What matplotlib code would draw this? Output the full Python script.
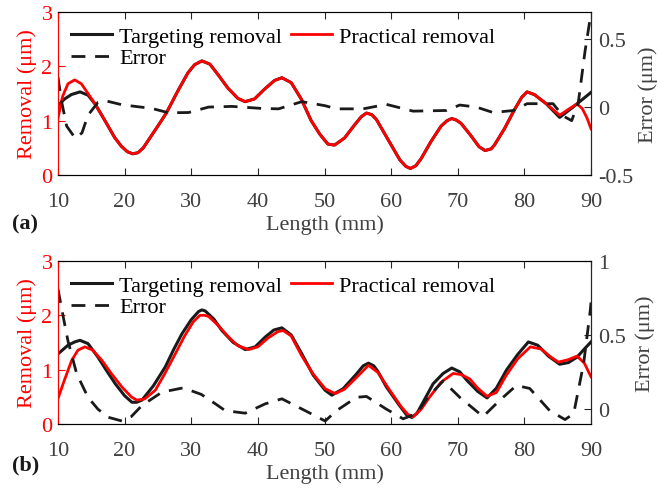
import matplotlib
matplotlib.use('Agg')
import matplotlib.pyplot as plt

plt.rcParams['font.family'] = ['Liberation Serif', 'DejaVu Serif']
plt.rcParams['font.size'] = 16
plt.rcParams['lines.solid_joinstyle'] = 'round'
plt.rcParams['lines.dash_joinstyle'] = 'round'

RED = '#ff0000'
GRAY = '#404040'
DARK = '#1a1a1a'
DASH = (0, (5, 3.5))

# ---- panel (a) data ----
a_target_x = [10, 11, 12, 13.3, 14.5, 15.6, 17, 18.5, 19.5, 20.4, 21.2, 22, 22.8, 24, 25.2, 26.3,
              28, 29.5, 30.5, 31.6, 32.8, 34, 35.5, 37, 38.1, 39.5, 41, 42.5, 43.6, 45, 46.5,
              48, 49.3, 50.5, 51.5, 53, 54.5, 55.5, 56.3, 57.1, 57.8, 59.5, 61.3, 62.2, 62.9,
              63.7, 64.5, 66, 67.5, 68.4, 69.1, 69.8, 70.5, 72, 73.2, 74.1, 75, 75.5, 77, 78.5,
              79.6, 80.4, 81.5, 83.3, 85.3, 87.3, 88.5, 90]
a_target_y = [1.28, 1.40, 1.48, 1.53, 1.47, 1.30, 1.01, 0.69, 0.53, 0.43, 0.39, 0.41, 0.50, 0.72,
              0.94, 1.15, 1.55, 1.88, 2.03, 2.10, 2.04, 1.85, 1.60, 1.41, 1.35, 1.40, 1.58, 1.74,
              1.79, 1.70, 1.40, 1.00, 0.75, 0.57, 0.55, 0.68, 0.92, 1.07, 1.14, 1.11, 1.02,
              0.66, 0.28, 0.16, 0.12, 0.17, 0.30, 0.62, 0.90, 1.00, 1.04, 1.01, 0.95, 0.72,
              0.52, 0.45, 0.48, 0.55, 0.85, 1.20, 1.43, 1.53, 1.48, 1.31, 1.06, 1.25, 1.37, 1.52]
a_practical_x = [10, 10.7, 11.5, 12.5, 13.5, 14.5, 15.6, 17, 18.5, 19.5, 20.4, 21.2, 22, 22.8, 24,
                 25.2, 26.3, 28, 29.5, 30.5, 31.6, 32.8, 34, 35.5, 37, 38.1, 39.5, 41, 42.5,
                 43.6, 45, 46.5, 48, 49.3, 50.5, 51.5, 53, 54.5, 55.5, 56.3, 57.1, 57.8, 59.5,
                 61.3, 62.2, 62.9, 63.7, 64.5, 66, 67.5, 68.4, 69.1, 69.8, 70.5, 72, 73.2, 74.1,
                 75, 75.5, 77, 78.5, 79.6, 80.4, 81.5, 83.3, 85.3, 86.5, 87.9, 88.7, 89.4, 90]
a_practical_y = [1.05, 1.45, 1.68, 1.75, 1.68, 1.50, 1.30, 1.01, 0.69, 0.53, 0.43, 0.39, 0.41,
                 0.50, 0.72, 0.94, 1.15, 1.55, 1.88, 2.03, 2.10, 2.04, 1.85, 1.60, 1.41, 1.35,
                 1.40, 1.58, 1.74, 1.79, 1.70, 1.40, 1.00, 0.75, 0.57, 0.55, 0.68, 0.92, 1.07,
                 1.14, 1.11, 1.02, 0.66, 0.28, 0.16, 0.12, 0.17, 0.30, 0.62, 0.90, 1.00, 1.04,
                 1.01, 0.95, 0.72, 0.52, 0.45, 0.48, 0.55, 0.85, 1.20, 1.43, 1.53, 1.48, 1.31,
                 1.10, 1.20, 1.31, 1.22, 1.05, 0.85]
a_error_x = [10, 10.5, 11.3, 12.6, 13.6, 14.5, 16.0, 17.1, 19.6, 24.1, 26.6, 29.6, 32.6, 36.1,
             40.6, 43.1, 46.6, 50.1, 51.8, 55.8, 59.3, 63.3, 68.3, 70.3, 72.8, 75.3, 78.4, 80.4,
             84.3, 85.8, 87.1, 88.1, 89.1, 89.8, 90]
a_error_y = [0.22, 0.05, -0.14, -0.23, -0.19, -0.06, 0.035, 0.047, 0.017, -0.01, -0.042, -0.04,
             0.0, 0.005, -0.01, -0.013, 0.04, 0.01, -0.013, -0.013, 0.02, -0.03, -0.025, 0.015,
             0.0, -0.04, -0.025, 0.025, 0.025, -0.065, -0.10, 0.035, 0.41, 0.63, 0.66]

# ---- panel (b) data ----
b_target_x = [10, 11.5, 12.5, 13.3, 14.5, 16.0, 17.3, 18.6, 20, 21.1, 21.8, 22.6, 24.3, 26.1,
              27.4, 28.6, 30, 31.1, 31.6, 32.1, 33.4, 34.6, 36.3, 38.1, 39.6, 41.1, 42.4, 43.6,
              45, 46.6, 48.3, 50.1, 51.1, 52.8, 54.8, 55.8, 56.6, 57.4, 58, 59.3, 61.2, 62.3,
              63.1, 63.9, 64.7, 66.3, 67.8, 69.1, 70.3, 71.4, 73, 74.4, 75.8, 77.3, 79, 80.6,
              82, 83.6, 85.3, 86.6, 87.9, 89, 90]
b_target_y = [1.29, 1.45, 1.51, 1.54, 1.48, 1.23, 0.98, 0.74, 0.52, 0.40, 0.40, 0.44, 0.70, 1.05,
              1.38, 1.66, 1.92, 2.07, 2.10, 2.08, 1.93, 1.72, 1.50, 1.37, 1.42, 1.60, 1.73,
              1.77, 1.64, 1.29, 0.90, 0.62, 0.53, 0.65, 0.92, 1.07, 1.12, 1.07, 0.97, 0.68,
              0.35, 0.17, 0.12, 0.20, 0.38, 0.74, 0.93, 1.03, 0.96, 0.80, 0.60, 0.48, 0.66,
              0.99, 1.28, 1.51, 1.45, 1.25, 1.10, 1.13, 1.23, 1.38, 1.51]
b_practical_x = [10, 11, 12.05, 13, 14.05, 15.2, 16.6, 18, 19.6, 21, 21.8, 23, 24.6, 26, 27.6, 29,
                 30.3, 31.3, 32.0, 32.6, 34, 35.6, 37, 38.6, 40, 41.5, 43, 43.8, 45, 46.6, 48.3,
                 50.1, 51.6, 53, 55, 56.6, 58, 59.8, 61.5, 62.5, 63.3, 64.5, 65.8, 67.5, 69.3,
                 70.5, 71.8, 73, 74.4, 75.8, 77.3, 79, 80.9, 82.5, 84, 85.1, 86.5, 87.9, 89, 90]
b_practical_y = [0.47, 0.82, 1.17, 1.36, 1.42, 1.36, 1.17, 0.93, 0.68, 0.50, 0.44, 0.46, 0.62,
                 0.92, 1.29, 1.62, 1.88, 2.00, 2.00, 1.98, 1.82, 1.60, 1.44, 1.37, 1.42, 1.58,
                 1.70, 1.72, 1.62, 1.25, 0.92, 0.65, 0.56, 0.64, 0.88, 1.08, 0.95, 0.62, 0.32,
                 0.18, 0.13, 0.27, 0.50, 0.77, 0.93, 0.91, 0.83, 0.66, 0.51, 0.58, 0.90, 1.20,
                 1.42, 1.38, 1.23, 1.14, 1.18, 1.25, 1.12, 0.87]
b_error_x = [10, 10.8, 11.5, 12.8, 14.5, 16, 17.5, 19.6, 21, 22.6, 25.6, 28.8, 31.5, 33.5, 35.1,
             38.1, 41.1, 43.6, 47.1, 50.1, 51.8, 54.8, 56.3, 59.3, 61.8, 63.8, 65.5, 67.8, 70.3,
             73.8, 76.3, 78.8, 80.8, 83.8, 86.1, 87.4, 88.9, 89.9, 90]
b_error_y = [0.81, 0.62, 0.46, 0.24, 0.08, 0.0, -0.054, -0.08, -0.05, 0.025, 0.115, 0.144, 0.10,
             0.04, -0.01, -0.027, 0.036, 0.07, -0.01, -0.08, -0.01, 0.08, 0.086, 0.0, -0.065,
             -0.03, 0.08, 0.19, 0.08, -0.05, 0.06, 0.16, 0.14, -0.01, -0.07, -0.03, 0.31, 0.67,
             0.72]

x_ticks = [10, 20, 30, 40, 50, 60, 70, 80, 90]
left_ticks = [0, 1, 2, 3]
a_right_ticks = [-0.5, 0, 0.5]
a_right_labels = ['-0.5', '0', '0.5']
b_right_ticks = [0, 0.5, 1]
b_right_labels = ['0', '0.5', '1']


def draw_panel(rect, tx, ty, px, py, ex, ey, err_lim, err_ticks, err_labels, tag, tag_y,
               err_pad):
    ax = fig.add_axes(rect)
    ax.plot(tx, ty, color=DARK, linewidth=2.2)
    ax.plot(px, py, color=RED, linewidth=2.0)
    ax.set_xlim(10, 90)
    ax.set_ylim(0, 3)
    ax.set_xticks(x_ticks)
    ax.set_yticks(left_ticks)
    ax.tick_params(axis='x', direction='in', top=True, length=5, colors='#262626',
                   labelcolor=GRAY, pad=12)
    ax.tick_params(axis='y', direction='in', length=5, colors=RED, labelcolor=RED, pad=4)
    ax.spines['left'].set_color(RED)
    ax.spines['top'].set_color('#262626')
    ax.spines['bottom'].set_color('#262626')
    ax.set_xlabel('Length (mm)', color=GRAY, labelpad=2.5)
    ax.set_ylabel('Removal (μm)', color=RED, labelpad=3)

    ax2 = ax.twinx()
    ax2.plot(ex, ey, color=DARK, linewidth=2.0, linestyle=DASH)
    ax2.set_ylim(*err_lim)
    ax2.set_yticks(err_ticks)
    ax2.set_yticklabels(err_labels)
    ax2.tick_params(axis='y', direction='in', length=5, colors='#262626', labelcolor=GRAY, pad=5)
    ax2.spines['right'].set_color('#262626')
    ax2.spines['left'].set_color(RED)
    ax2.set_ylabel('Error (μm)', color=GRAY, labelpad=err_pad)

    h_t, = ax2.plot([], [], color=DARK, linewidth=2.2, label='Targeting removal')
    h_e, = ax2.plot([], [], color=DARK, linewidth=2.0, linestyle=DASH, label='Error')
    h_p, = ax2.plot([], [], color=RED, linewidth=2.0, label='Practical removal')
    ax2.legend(handles=[h_t, h_e, h_p], ncol=2, loc='upper left', frameon=False,
               bbox_to_anchor=(0.0, 0.995), handlelength=1.85, handletextpad=0.3,
               columnspacing=0.4, labelspacing=0.05, borderaxespad=0.2)

    fig.text(0.018, tag_y, tag, fontweight='bold', fontsize=16, color=DARK, va='center')
    return ax, ax2


fig = plt.figure(figsize=(6.6, 4.89), dpi=100)

draw_panel([58 / 660, 1 - 176 / 489, 533 / 660, 163 / 489],
           a_target_x, a_target_y, a_practical_x, a_practical_y, a_error_x, a_error_y,
           (-0.5, 0.7), a_right_ticks, a_right_labels, '(a)', 1 - 224 / 489, 4)
draw_panel([58 / 660, 1 - 425 / 489, 533 / 660, 163 / 489],
           b_target_x, b_target_y, b_practical_x, b_practical_y, b_error_x, b_error_y,
           (-0.1, 1.0), b_right_ticks, b_right_labels, '(b)', 1 - 465 / 489, 7)

fig.savefig('out.png', dpi=100)
plt.close(fig)
